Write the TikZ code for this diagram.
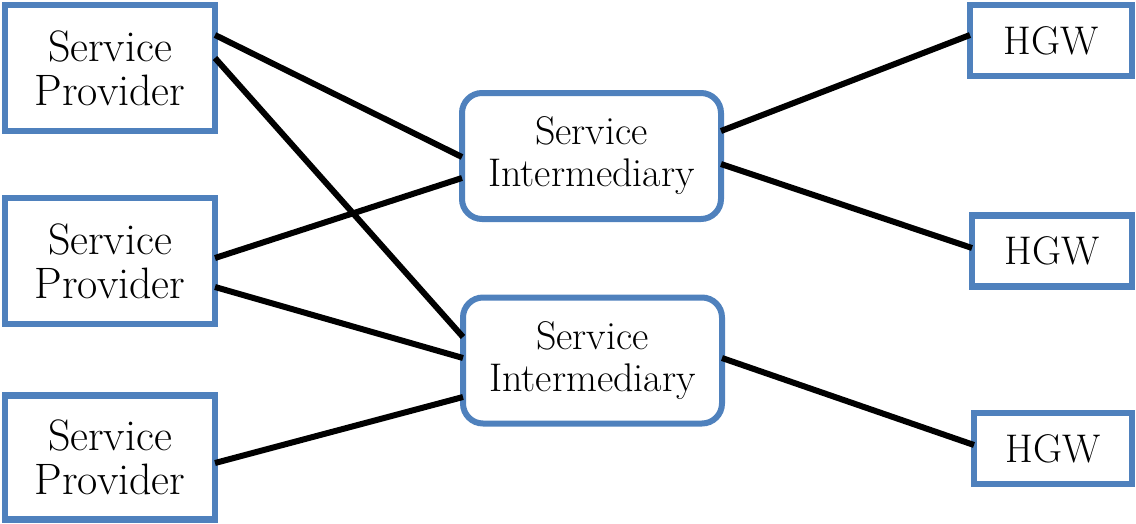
\documentclass[tikz,border=0pt]{standalone}
\usetikzlibrary{positioning}
\definecolor{boxblue}{HTML}{4F81BD}
\tikzset{
  spbox/.style={draw=boxblue, line width=6.5pt, fill=white, minimum width=210pt, minimum height=126pt, inner sep=0pt, outer sep=0pt, align=center, font=\fontsize{44}{44}\selectfont},
  sibox/.style={draw=boxblue, line width=6pt, fill=white, rounded corners=20pt, minimum width=259pt, minimum height=126pt, inner sep=0pt, outer sep=0pt, align=center, font=\fontsize{40}{42}\selectfont},
  hgwbox/.style={draw=boxblue, line width=6.5pt, fill=white, minimum width=160pt, minimum height=71pt, inner sep=0pt, outer sep=0pt, align=center, font=\fontsize{40}{42}\selectfont},
  link/.style={line width=6pt, black}
}
\begin{document}
\begin{tikzpicture}[x=1pt,y=-1pt]
\useasboundingbox (0,0) rectangle (1136,523);
\node[spbox] (sp1) at (110,68) {Service\\Provider};
\node[spbox] (sp2) at (110,261) {Service\\Provider};
\node[spbox, minimum height=124pt] (sp3) at (110,457.5) {Service\\Provider};
\node[sibox] (si1) at (591.5,156) {Service\\Intermediary};
\node[sibox] (si2) at (592.5,360.5) {Service\\Intermediary};
\node[hgwbox, minimum width=162pt] (h1) at (1051,40.5) {HGW};
\node[hgwbox] (h2) at (1052,251) {HGW};
\node[hgwbox, minimum width=158pt] (h3) at (1053,448.5) {HGW};
\draw[link] ([yshift=33pt]sp1.east) -- ([yshift=-1pt]si1.west);
\draw[link] ([yshift=10pt]sp1.east) -- ([yshift=23.5pt]si2.west);
\draw[link] ([yshift=3pt]sp2.east) -- ([yshift=-22pt]si1.west);
\draw[link] ([yshift=-26pt]sp2.east) -- ([yshift=2.5pt]si2.west);
\draw[link] ([yshift=-5.5pt]sp3.east) -- ([yshift=-36.5pt]si2.west);
\draw[link] ([yshift=25pt]si1.east) -- ([yshift=5.5pt]h1.west);
\draw[link] ([yshift=-8pt]si1.east) -- ([yshift=3pt]h2.west);
\draw[link] ([yshift=2.5pt]si2.east) -- ([yshift=3.5pt]h3.west);
\end{tikzpicture}
\end{document}
